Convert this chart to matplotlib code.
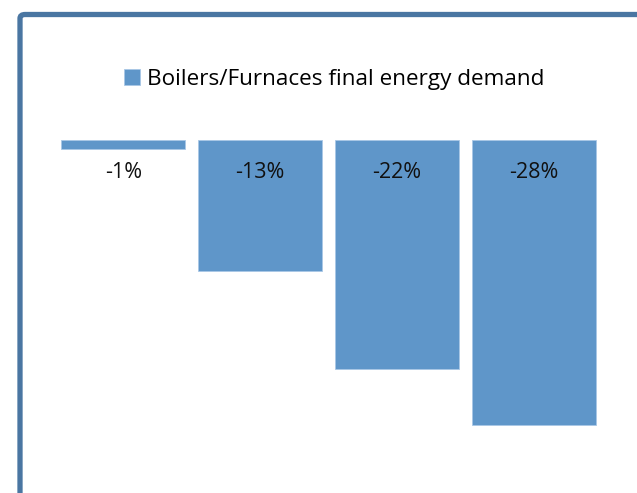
import matplotlib
matplotlib.use("Agg")
import matplotlib.pyplot as plt
from matplotlib.patches import FancyBboxPatch

categories = ["A", "B", "C", "D"]
values = [-0.9, -12.9, -22.5, -28.0]
labels = ["-1%", "-13%", "-22%", "-28%"]
series_name = "Boilers/Furnaces final energy demand"

W, H = 637, 493
fig = plt.figure(figsize=(W / 100, H / 100), dpi=100)
fig.patch.set_facecolor("white")
plt.rcParams["font.family"] = ["Open Sans", "DejaVu Sans"]

# outer frame
frame = FancyBboxPatch((20 / W, (H - 520) / H), 660 / W, (520 - 14.5) / H,
                       boxstyle="round,pad=0,rounding_size=0.008",
                       transform=fig.transFigure, facecolor="none",
                       edgecolor="#4a76a2", linewidth=3.8, zorder=0)
fig.patches.append(frame)

ax = fig.add_axes([55 / W, 1 - 460 / H, (602 - 55) / W, (460 - 140) / H])
x = list(range(len(categories)))
bars = ax.bar(x, values, width=0.907, color="#5f96c9", edgecolor="#a9c7e6",
              linewidth=0.6, label=series_name)
ax.set_xlim(-0.5, len(categories) - 0.5)
ax.set_ylim(-31.4, 0)
ax.axis("off")

for xi, lab in zip(x, labels):
    ax.annotate(lab, xy=(xi, 0), xytext=(0, -23.5), textcoords="offset points",
                ha="center", va="center", fontsize=15.5, color="#111111")

leg = fig.legend(handles=[bars], labels=[series_name], loc="center",
                 bbox_to_anchor=(334 / W, 1 - 79 / H), frameon=False,
                 fontsize=16.2, handlelength=0.7, handleheight=0.7,
                 handletextpad=0.3)

fig.savefig("out.png", dpi=100, facecolor="white")
